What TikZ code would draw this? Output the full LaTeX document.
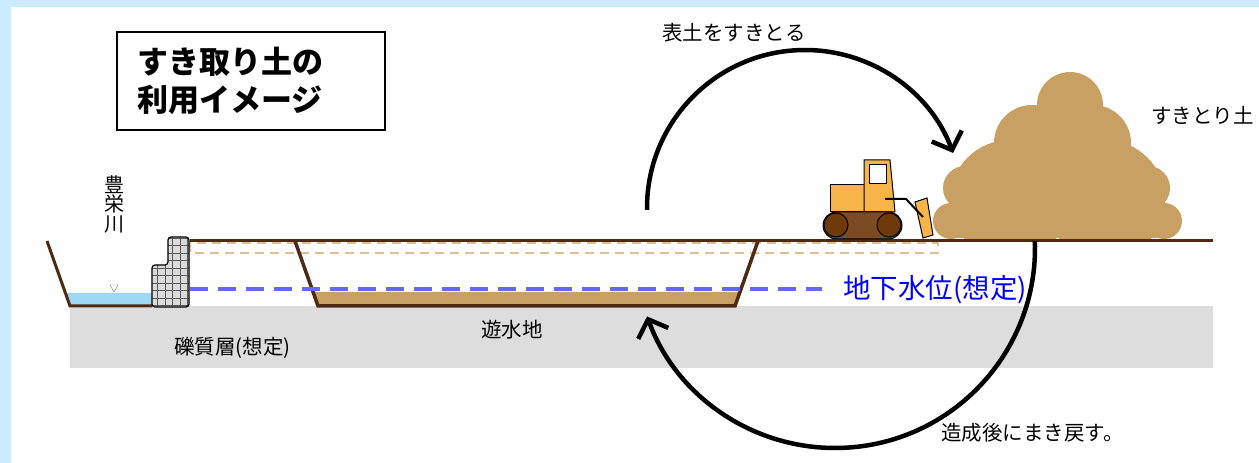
\documentclass[tikz,border=0pt]{standalone}
\usepackage{fontspec}
\setmainfont{Noto Sans CJK JP}
\usetikzlibrary{arrows.meta}

\definecolor{frameblue}{RGB}{204,236,255}
\definecolor{soil}{RGB}{200,160,100}
\definecolor{earth}{RGB}{78,42,18}
\definecolor{gravel}{RGB}{220,221,220}
\definecolor{water}{RGB}{158,216,242}
\definecolor{groundwater}{RGB}{102,102,255}
\definecolor{oldsurface}{RGB}{222,192,150}
\definecolor{dozer}{RGB}{247,180,72}
\definecolor{track}{RGB}{125,75,35}
\definecolor{wheel}{RGB}{110,58,12}
\definecolor{mesh}{RGB}{218,218,218}

\tikzset{
	txt/.style={inner sep=0pt, font=\fontsize{20.5}{22}\selectfont},
	groundline/.style={earth, line width=3pt},
	soilarrow/.style={line width=4.5pt, -{Straight Barb[length=15pt,width=32pt]}},
}

\begin{document}
\begin{tikzpicture}[x=1pt,y=1pt]
	\useasboundingbox (0,0) rectangle (1259,463);
	% draw background
	\fill[frameblue] (0,0) rectangle (1259,463);
	\fill[white] (11,0) rectangle (1259,456);
	% title
	\node[draw, line width=1.8pt, minimum width=268pt, minimum height=98pt, text width=228pt, inner sep=0pt,
		align=left, font=\bfseries\fontsize{31}{38}\selectfont] (title) at (251,382) {すき取り土の\\利用イメージ};
	% draw gravel layer
	\fill[gravel] (70,95) rectangle (1213,157);
	% draw river water
	\fill[water] (65,170) -- (152,170) -- (152,157) -- (70,157) -- cycle;
	\draw[gray, thin] (110,178) -- (118,178) -- (114,171) -- cycle;
	% draw pond bottom soil
	\fill[soil] (313,171) -- (740,171) -- (735,157) -- (318,157) -- cycle;
	% draw stripped topsoil layer
	\draw[oldsurface, line width=1.5pt, dash pattern=on 9pt off 6pt] (190,220) rectangle (938,210);
	% draw ground surface
	\draw[groundline] (190,222) -- (1213,222);
	\draw[groundline] (47,222) -- (70,157) -- (152,157);
	\draw[groundline, line width=3.5pt] (295,222) -- (318,157) -- (735,157) -- (758,222);
	% draw groundwater level
	\draw[groundwater, line width=3.5pt, dash pattern=on 18pt off 10pt] (190,174) -- (822,174);
	% draw gabion
	\begin{scope}
		\clip[rounded corners=3pt] (152,156) -- (189,156) -- (189,226) -- (168,226) -- (168,198) -- (152,198) -- cycle;
		\fill[mesh] (150,150) rectangle (192,230);
		\draw[gray!70!black, very thin, step=7.5pt] (150,150) grid (192,230);
	\end{scope}
	\draw[line width=1.2pt, rounded corners=3pt] (152,156) -- (189,156) -- (189,226) -- (168,226) -- (168,198) -- (152,198) -- cycle;
	% draw soil pile
	\begin{scope}
		\clip (900,224) rectangle (1220,420);
		\fill[soil] (950,225) rectangle (1165,263);
		\foreach \x/\y/\r in {951/242/18, 1164/242/18, 965/275/22, 1148/275/22, 1010/263/60,
			1105/263/60, 1032/320/38, 1093/320/38, 1070/358/33}
			\fill[soil] (\x,\y) circle (\r pt);
	\end{scope}
	% draw bulldozer
	\draw[fill=dozer, line width=1pt] (830,251) rectangle (864,278);
	\draw[fill=dozer, line width=1pt] (864,251) -- (864,303) -- (890,303) -- (895,251) -- cycle;
	\draw[fill=white, line width=1pt] (869,279) rectangle (886,298);
	\draw[fill=track, line width=1pt, rounded corners=13.5pt] (823,224) rectangle (902,251);
	\draw[fill=wheel, line width=1pt] (836,238) circle (12pt);
	\draw[fill=wheel, line width=1pt] (889,238) circle (12pt);
	\draw[fill=dozer, line width=1pt] (915,261) -- (927,265) -- (933,228) -- (923,225) -- cycle;
	\draw[line width=2pt] (885,264) -- (906,264) -- (923,246);
	% labels
	\node[txt, align=center, font=\fontsize{20}{19.5}\selectfont] (river) at (114,259) {豊\\栄\\川};
	\node[txt, anchor=west] (pond) at (481,133) {遊水地};
	\node[txt, anchor=west] (layer) at (174,115) {礫質層(想定)};
	\node[txt, anchor=west, text=blue, font=\fontsize{27.5}{29}\selectfont] (gwl) at (843,173) {地下水位(想定)};
	\node[txt, anchor=west] (strip) at (662,430) {表土をすきとる};
	\node[txt, anchor=west] (pile) at (1151,348) {すきとり土};
	\node[txt, anchor=west] (back) at (941,30) {造成後にまき戻す。};
	% draw soil movement
	\draw[soilarrow] (805,255) ++(180.7:158pt) arc[start angle=180.7, end angle=20.4, radius=158pt];
	\draw[soilarrow] (835,215) ++(2:200pt) arc[start angle=2, end angle=-160, radius=200pt];
\end{tikzpicture}
\end{document}
